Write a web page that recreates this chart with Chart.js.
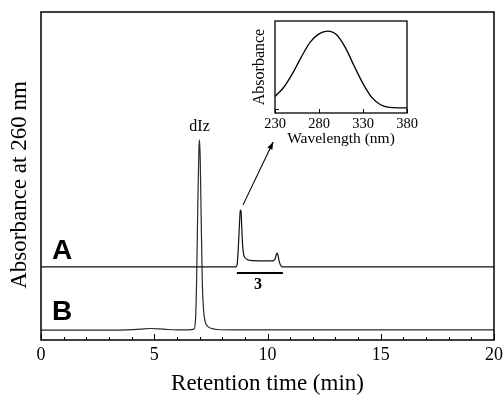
<!DOCTYPE html>
<html><head><meta charset="utf-8">
<script src="https://cdn.jsdelivr.net/npm/chart.js@4"></script>
<style>
html,body{margin:0;padding:0;background:#fff;}
#wrap{position:relative;width:503px;height:402px;overflow:hidden;}
#main{position:absolute;left:0;top:0;}
#inset{position:absolute;left:250px;top:8px;}
</style></head><body>
<div id="wrap">
<canvas id="main" width="503" height="402" style="width:503px;height:402px"></canvas>
<canvas id="inset" width="180" height="140" style="width:180px;height:140px"></canvas>
</div>
<script>
// ---- main chromatogram data (retention time in min, absorbance in arbitrary units) ----
const traceATime  = [0, 8.6, 8.66, 8.71, 8.76, 8.8, 8.83, 8.86, 8.9, 8.95, 9.02, 9.15, 9.4, 9.8, 10.2, 10.32, 10.38, 10.42, 10.46, 10.51, 10.57, 10.66, 11, 15, 20];
const traceAValue = [22.3, 22.3, 23, 28, 35, 39.5, 39.6, 35, 29, 26, 25, 24.4, 24.2, 24.1, 24.1, 24.5, 25.8, 26.5, 25.9, 24.2, 22.9, 22.3, 22.3, 22.3, 22.3];
const traceBTime  = [0, 1, 2, 3, 3.8, 4.4, 4.8, 5.2, 5.6, 6.0, 6.5, 6.75, 6.82, 6.87, 6.92, 6.97, 7.0, 7.03, 7.07, 7.12, 7.18, 7.25, 7.35, 7.5, 7.8, 8.5, 10, 12, 15, 18, 20];
const traceBValue = [3.0, 3.0, 3.0, 3.0, 3.1, 3.3, 3.5, 3.4, 3.2, 3.1, 3.1, 3.3, 6, 18, 40, 58, 61, 55, 38, 18, 9, 5.5, 4.2, 3.6, 3.2, 3.1, 3.1, 3.1, 3.1, 3.1, 3.1];
const xTickValues = [0, 5, 10, 15, 20];

// ---- inset UV spectrum ----
const wavelengths = [230, 240, 250, 260, 270, 280, 290, 300, 310, 320, 330, 340, 350, 360, 370, 380];
const spectrum    = [0.18, 0.28, 0.43, 0.61, 0.77, 0.86, 0.89, 0.85, 0.71, 0.51, 0.32, 0.17, 0.09, 0.06, 0.055, 0.055];
const insetTicks  = [230, 280, 330, 380];

const SERIF = '"Liberation Serif", "DejaVu Serif", serif';
const SANS = '"Liberation Sans", Arial, sans-serif';

function pts(xs, ys){ return xs.map((x,i)=>({x, y: ys[i]})); }

const frameTicks = {
  id: 'frameTicks',
  afterDraw(chart, args, o){
    const {ctx, chartArea:a, scales:{x}} = chart;
    ctx.save();
    ctx.strokeStyle = '#000';
    ctx.lineWidth = o.frame;
    ctx.strokeRect(a.left, a.top, a.right - a.left, a.bottom - a.top);
    ctx.lineWidth = 1;
    for (let v = x.min; v <= x.max + 1e-9; v += o.minor) {
      const px = Math.round(x.getPixelForValue(v)) + 0.5;
      const isMajor = Math.abs(v / o.major - Math.round(v / o.major)) < 1e-6;
      const len = isMajor ? o.majorLen : o.minorLen;
      ctx.beginPath(); ctx.moveTo(px, a.bottom); ctx.lineTo(px, a.bottom - len); ctx.stroke();
    }
    (o.yTicks || []).forEach(v => {
      const py = Math.round(chart.scales.y.getPixelForValue(v)) + 0.5;
      ctx.beginPath(); ctx.moveTo(a.left, py); ctx.lineTo(a.left + o.minorLen, py); ctx.stroke();
    });
    ctx.restore();
  }
};

// y-axis title, drawn slightly below the centre of the plot as in the original figure
const yTitle = {
  id: 'yTitle',
  afterDraw(chart, args, o){
    const {ctx, chartArea:a} = chart;
    ctx.save();
    ctx.fillStyle = '#000';
    ctx.font = o.size + 'px ' + SERIF;
    ctx.textAlign = 'center'; ctx.textBaseline = 'middle';
    ctx.translate(o.x, (a.top + a.bottom) / 2 + o.shift);
    ctx.rotate(-Math.PI / 2);
    ctx.fillText(o.text, 0, 0);
    ctx.restore();
  }
};

const annotations = {
  id: 'annotations',
  afterDraw(chart){
    const {ctx, scales:{x, y}} = chart;
    const X = v => x.getPixelForValue(v), Y = v => y.getPixelForValue(v);
    ctx.save();
    ctx.fillStyle = '#000'; ctx.strokeStyle = '#000';
    ctx.textAlign = 'center'; ctx.textBaseline = 'middle';
    ctx.font = '16px ' + SERIF;
    ctx.fillText('dIz', X(7.0), Y(65));
    ctx.font = 'bold 28px ' + SANS;
    ctx.fillText('A', X(0.93), Y(27.0));
    ctx.fillText('B', X(0.93), Y(8.3));
    ctx.font = 'bold 16px ' + SERIF;
    ctx.fillText('3', X(9.58), Y(16.8));
    // fraction bar
    ctx.lineWidth = 2;
    ctx.beginPath(); ctx.moveTo(X(8.65), Y(20.4)); ctx.lineTo(X(10.68), Y(20.4)); ctx.stroke();
    // arrow
    const x1 = X(8.92), y1 = Y(41.2), x2 = X(10.25), y2 = Y(60.4);
    ctx.lineWidth = 1.1;
    ctx.beginPath(); ctx.moveTo(x1, y1); ctx.lineTo(x2, y2); ctx.stroke();
    const ang = Math.atan2(y2 - y1, x2 - x1), hl = 8, hw = 0.35;
    ctx.beginPath();
    ctx.moveTo(x2, y2);
    ctx.lineTo(x2 - hl*Math.cos(ang - hw), y2 - hl*Math.sin(ang - hw));
    ctx.lineTo(x2 - hl*Math.cos(ang + hw), y2 - hl*Math.sin(ang + hw));
    ctx.closePath(); ctx.fill();
    ctx.restore();
  }
};

new Chart(document.getElementById('main'), {
  type: 'line',
  data: {
    datasets: [
      {label: 'A', data: pts(traceATime, traceAValue), borderColor: '#111', borderWidth: 1.2, pointRadius: 0, cubicInterpolationMode: 'monotone', fill: false},
      {label: 'B', data: pts(traceBTime, traceBValue), borderColor: '#2a2a2a', borderWidth: 1.2, pointRadius: 0, cubicInterpolationMode: 'monotone', fill: false}
    ]
  },
  options: {
    responsive: false, animation: false, devicePixelRatio: 1,
    layout: {padding: {top: 12, right: 9, left: 0, bottom: 0}},
    plugins: {legend: {display: false}, tooltip: {enabled: false},
      frameTicks: {frame: 1.5, minor: 1, major: 5, majorLen: 6, minorLen: 3},
      yTitle: {text: 'Absorbance at 260 nm', size: 23, x: 20, shift: 9}},
    scales: {
      x: {type: 'linear', min: 0, max: 20,
        afterFit: s => { s.height = 62; s.paddingLeft = 0; s.paddingRight = 0; },
        afterBuildTicks: s => { s.ticks = xTickValues.map(v => ({value: v})); },
        grid: {display: false, drawTicks: false}, border: {display: false},
        ticks: {color: '#000', padding: 4, font: {family: SERIF, size: 18}},
        title: {display: true, text: 'Retention time (min)', color: '#000', font: {family: SERIF, size: 23, lineHeight: 1}, padding: {top: 0, bottom: 7}}
      },
      y: {type: 'linear', min: 0, max: 100,
        afterFit: s => { s.width = 41; s.paddingTop = 0; s.paddingBottom = 0; },
        grid: {display: false, drawTicks: false}, border: {display: false},
        ticks: {display: false},
        title: {display: false}
      }
    }
  },
  plugins: [frameTicks, annotations, yTitle]
});

new Chart(document.getElementById('inset'), {
  type: 'line',
  data: {
    datasets: [{data: pts(wavelengths, spectrum), borderColor: '#000', borderWidth: 1.3, pointRadius: 0, cubicInterpolationMode: 'monotone', fill: false}]
  },
  options: {
    responsive: false, animation: false, devicePixelRatio: 1,
    layout: {padding: {top: 13, right: 23, left: 0, bottom: 0}},
    plugins: {legend: {display: false}, tooltip: {enabled: false},
      frameTicks: {frame: 1.3, minor: 50, major: 1000, majorLen: 4, minorLen: 4, yTicks: [0.045]}},
    scales: {
      x: {type: 'linear', min: 230, max: 380,
        afterFit: s => { s.height = 35; s.paddingLeft = 0; s.paddingRight = 0; },
        afterBuildTicks: s => { s.ticks = insetTicks.map(v => ({value: v})); },
        grid: {display: false, drawTicks: false}, border: {display: false},
        ticks: {color: '#000', padding: 2, font: {family: SERIF, size: 14.5}},
        title: {display: true, text: 'Wavelength (nm)', color: '#000', font: {family: SERIF, size: 15.5, lineHeight: 1}, padding: {top: 0, bottom: 1}}
      },
      y: {type: 'linear', min: 0, max: 1,
        afterFit: s => { s.width = 25; },
        grid: {display: false, drawTicks: false}, border: {display: false},
        ticks: {display: false},
        title: {display: true, text: 'Absorbance', color: '#000', font: {family: SERIF, size: 16, lineHeight: 1}, padding: {top: 2, bottom: 0}}
      }
    }
  },
  plugins: [frameTicks]
});
</script>
</body></html>
